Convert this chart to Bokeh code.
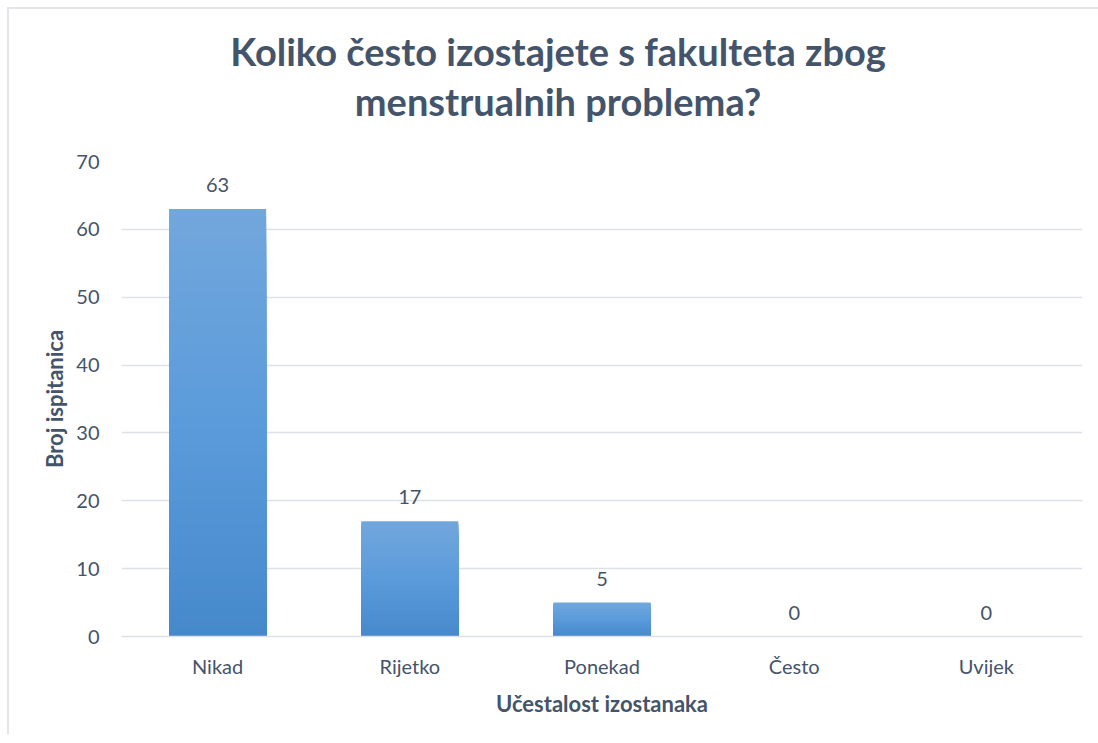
import numpy as np
from bokeh.plotting import figure
from bokeh.layouts import column
from bokeh.models import ColumnDataSource, Range1d, FactorRange, LabelSet, FixedTicker, Div
from bokeh.core.properties import value
from bokeh.embed import file_html
from bokeh.resources import INLINE

# ---- data ----
categories = ["Nikad", "Rijetko", "Ponekad", "Često", "Uvijek"]
counts = [63, 17, 5, 0, 0]
y_ticks = [0, 10, 20, 30, 40, 50, 60, 70]
title_lines = ["Koliko često izostajete s fakulteta zbog", "menstrualnih problema?"]
x_title = "Učestalost izostanaka"
y_title = "Broj ispitanica"

TXT = "#44546A"
GRID = "#DDE1E6"
FONT = "Lato"

line_html = "".join('<div style="height:50px;line-height:50px;">%s</div>' % t for t in title_lines)
title_div = Div(
    text=('<div style="margin-left:24px;margin-top:12px;width:1040px;text-align:center;'
          'font-family:Lato;font-weight:bold;font-size:38px;'
          'color:%s;white-space:nowrap;">' % TXT) + line_html + "</div>",
    width=1080, height=122)

p = figure(x_range=FactorRange(*categories, range_padding=0),
           y_range=Range1d(0, 70),
           width=1080, height=593, output_backend="svg", toolbar_location=None,
           min_border_left=112, min_border_right=7, min_border_top=20, min_border_bottom=98)
p.outline_line_color = None
p.background_fill_color = "white"

# gradient bars: nested full-height rects, tallest (lightest) first, shorter darker on top
N = 60
top_c = np.array([0x72, 0xA7, 0xDC]) / 255.0
mid_c = np.array([0x5B, 0x9B, 0xDB]) / 255.0
bot_c = np.array([0x46, 0x89, 0xCB]) / 255.0

def col(f):  # f = 0 bottom .. 1 top
    if f < 0.5:
        c = bot_c + (mid_c - bot_c) * (f / 0.5)
    else:
        c = mid_c + (top_c - mid_c) * ((f - 0.5) / 0.5)
    return "#%02x%02x%02x" % tuple(int(round(x * 255)) for x in c)

xs, tops, cols = [], [], []
for k in range(N):
    frac = (N - k) / N
    for cat, v in zip(categories, counts):
        if v <= 0:
            continue
        xs.append(cat)
        tops.append(v * frac)
        cols.append(col(frac - 0.5 / N))
bsrc = ColumnDataSource(dict(x=xs, top=tops, color=cols))
p.vbar(x="x", bottom=0, top="top", width=0.505, source=bsrc,
       fill_color="color", line_color=None)

# data labels
lsrc = ColumnDataSource(dict(x=categories, y=counts, t=[str(c) for c in counts]))
p.add_layout(LabelSet(x="x", y="y", text="t", source=lsrc, text_align="center",
                      text_baseline="alphabetic", y_offset=17, text_font=value(FONT),
                      text_font_size="20px", text_color=TXT))

# axes
p.yaxis.ticker = FixedTicker(ticks=y_ticks)
p.ygrid.grid_line_color = GRID
p.ygrid.grid_line_width = 1.5
p.xgrid.grid_line_color = None
p.yaxis.axis_line_color = None
p.yaxis.major_tick_line_color = None
p.yaxis.minor_tick_line_color = None
p.xaxis.major_tick_line_color = None
p.xaxis.axis_line_color = GRID
p.xaxis.axis_line_width = 1.5
for ax in (p.xaxis, p.yaxis):
    ax.major_label_text_font = FONT
    ax.major_label_text_font_size = "20px"
    ax.major_label_text_color = TXT
    ax.axis_label_text_font = FONT
    ax.axis_label_text_font_size = "22px"
    ax.axis_label_text_font_style = "bold"
    ax.axis_label_text_color = TXT
p.yaxis.major_label_standoff = 16
p.yaxis.axis_label = y_title
p.yaxis.axis_label_standoff = 5
p.xaxis.major_label_standoff = 11
p.xaxis.axis_label = x_title
p.xaxis.axis_label_standoff = 9

layout = column(title_div, p, spacing=0)
layout.styles = {"border-left": "2px solid #E2E6EB", "border-top": "2px solid #E2E6EB",
                 "margin-left": "7px", "margin-top": "7px", "background": "white"}

open("out.html", "w").write(file_html(layout, INLINE))
